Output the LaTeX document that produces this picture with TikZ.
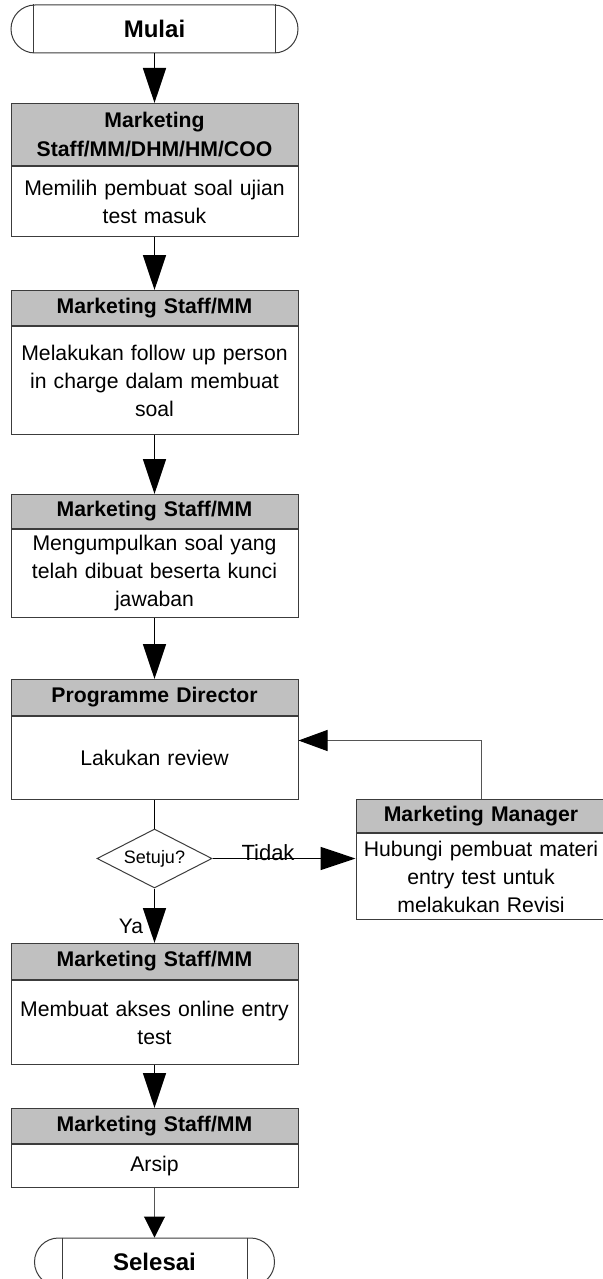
\documentclass[tikz,border=0pt]{standalone}
\usepackage{fontspec}
\setmainfont{Liberation Sans}
\usepackage{xcolor}
\usepackage{tikz}
\usetikzlibrary{shapes.geometric, arrows.meta, positioning, calc}
\definecolor{headgray}{HTML}{C0C0C0}
\definecolor{boxline}{HTML}{3C3C3C}
\definecolor{linkgray}{HTML}{555555}
\tikzset{
  termnode/.style={
    rectangle, rounded corners=12pt,
    minimum width=143.5pt, minimum height=24pt,
    draw=boxline, fill=white, line width=0.5pt,
    font=\fontsize{12pt}{14pt}\selectfont\bfseries
  },
  headnode/.style={
    rectangle, anchor=north,
    minimum width=143.5pt, inner sep=1pt,
    text width=140pt, align=center,
    draw=boxline, fill=headgray, line width=0.5pt,
    font=\fontsize{10.6pt}{14.5pt}\selectfont\bfseries
  },
  bodynode/.style={
    rectangle, below=0pt of #1,
    minimum width=143.5pt, inner sep=1pt,
    text width=140pt, align=center,
    draw=boxline, fill=white, line width=0.5pt,
    font=\fontsize{10.6pt}{14pt}\selectfont
  },
  decnode/.style={
    diamond, aspect=2, inner sep=0pt,
    minimum width=57.5pt, minimum height=29.5pt,
    draw=boxline, fill=white, line width=0.5pt,
    font=\fontsize{9pt}{11pt}\selectfont
  },
  arrow/.style={
    -{Triangle[length=17.5pt, width=11.5pt]}, line width=0.8pt, color=black
  },
  backarrow/.style={
    -{Triangle[length=14.5pt, width=10.5pt, color=black]}, line width=0.5pt, color=linkgray
  },
  endarrow/.style={
    -{Triangle[length=10.5pt, width=10.5pt, color=black]}, line width=0.5pt, color=linkgray
  },
  plainline/.style={
    line width=0.8pt, color=black
  },
  edgelabel/.style={
    inner sep=0pt, font=\fontsize{11pt}{13pt}\selectfont
  }
}

\begin{document}
\begin{tikzpicture}[x=0.5pt, y=-0.5pt]

  \useasboundingbox[fill=white] (0,0) rectangle (603,1279);

  % ── Start ──────────────────────────────────────────────────────────────
  \node[termnode] (mulai) at (154.5,29) {Mulai};
  \draw[boxline, line width=0.5pt] ([xshift=11.5pt]mulai.north west) -- ([xshift=11.5pt]mulai.south west);
  \draw[boxline, line width=0.5pt] ([xshift=-11.5pt]mulai.north east) -- ([xshift=-11.5pt]mulai.south east);

  % ── Main column ────────────────────────────────────────────────────────
  \node[headnode, minimum height=31pt] (pilihhd) at (154.5,103) {Marketing\\Staff/MM/DHM/HM/COO};
  \node[bodynode=pilihhd, minimum height=35pt] (pilihbd) {Memilih pembuat soal ujian\\test masuk};

  \node[headnode, minimum height=17.5pt] (followhd) at (154.5,290) {Marketing Staff/MM};
  \node[bodynode=followhd, minimum height=54pt] (followbd) {Melakukan follow up person\\in charge dalam membuat\\soal};

  \node[headnode, minimum height=17pt] (kumpulhd) at (154.5,494) {Marketing Staff/MM};
  \node[bodynode=kumpulhd, minimum height=44pt] (kumpulbd) {Mengumpulkan soal yang\\telah dibuat beserta kunci\\jawaban};

  \node[headnode, minimum height=18pt] (reviewhd) at (154.5,679) {Programme Director};
  \node[bodynode=reviewhd, minimum height=41.5pt] (reviewbd) {Lakukan review};

  \node[decnode] (setuju) at (154.5,858.5) {Setuju?};

  \node[headnode, minimum height=18pt] (akseshd) at (154.5,943) {Marketing Staff/MM};
  \node[bodynode=akseshd, minimum height=42pt] (aksesbd) {Membuat akses online entry\\test};

  \node[headnode, minimum height=17.5pt] (arsiphd) at (154.5,1108) {Marketing Staff/MM};
  \node[bodynode=arsiphd, minimum height=21.5pt] (arsipbd) {Arsip};

  % ── End ────────────────────────────────────────────────────────────────
  \node[termnode, minimum width=120pt] (selesai) at (154.5,1262) {Selesai};
  \draw[boxline, line width=0.5pt] ([xshift=14pt]selesai.north west) -- ([xshift=14pt]selesai.south west);
  \draw[boxline, line width=0.5pt] ([xshift=-14pt]selesai.north east) -- ([xshift=-14pt]selesai.south east);

  % ── Revision branch ────────────────────────────────────────────────────
  \node[headnode, minimum width=125pt, text width=122pt, minimum height=16.5pt] (revisihd) at (481,799) {Marketing Manager};
  \node[bodynode=revisihd, minimum width=125pt, text width=122pt, minimum height=43pt] (revisibd) {Hubungi pembuat materi\\entry test untuk\\melakukan Revisi};

  % arrows — main column
  \draw[arrow] (mulai)    -- (pilihhd);
  \draw[arrow] (pilihbd)  -- (followhd);
  \draw[arrow] (followbd) -- (kumpulhd);
  \draw[arrow] (kumpulbd) -- (reviewhd);
  \draw[plainline] (reviewbd) -- (setuju);
  \draw[arrow] (setuju)   -- (akseshd);
  \draw[arrow] (aksesbd)  -- (arsiphd);
  \draw[endarrow] (arsipbd) -- (selesai);

  % arrows — revision loop
  \draw[arrow] (setuju.east) -- (setuju.east -| revisibd.west);
  \draw[backarrow] (revisihd.north) |- ([yshift=8.75pt]reviewbd.east);

  % decision labels
  \node[edgelabel, anchor=base] (tidak) at (268,860) {Tidak};
  \node[edgelabel, font=\fontsize{10.5pt}{12pt}\selectfont] (ya) at (131,926) {Ya};

\end{tikzpicture}
\end{document}
